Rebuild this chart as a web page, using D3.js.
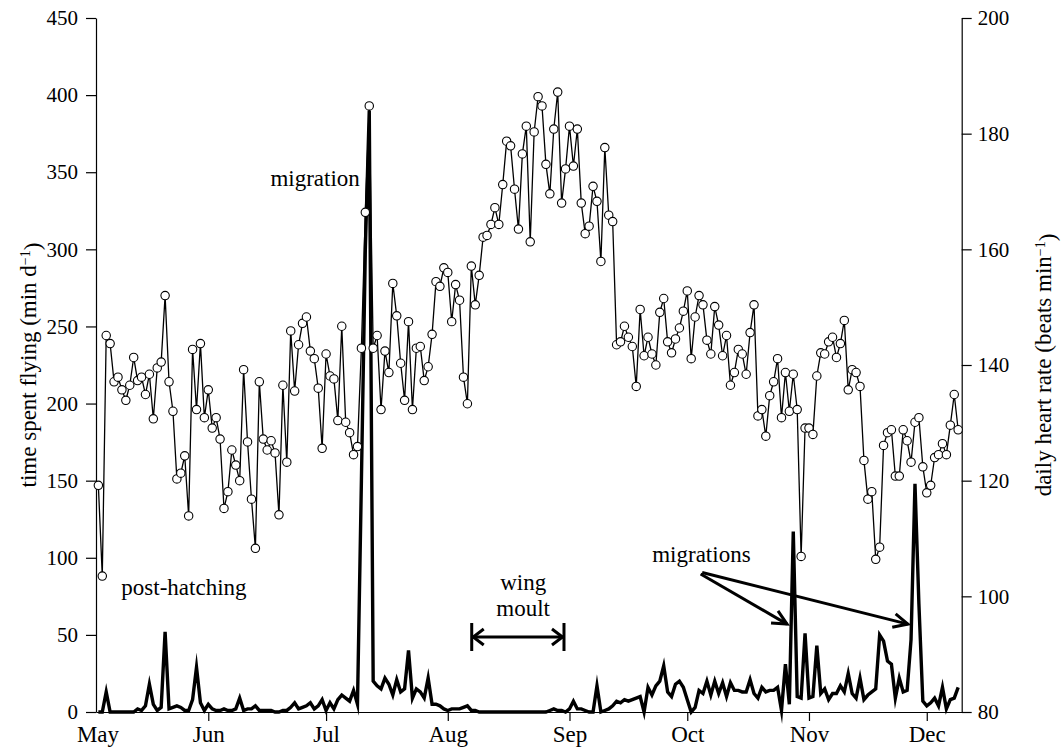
<!DOCTYPE html>
<html>
<head>
<meta charset="utf-8">
<script src="https://cdn.jsdelivr.net/npm/d3@7"></script>
<style>
  body { margin: 0; background: #fff; }
  text { font-family: "Liberation Serif", "Times New Roman", serif; fill: #000; }
</style>
</head>
<body>
<div id="chart"></div>
<script>
// days counted from 1 May; one value per day from firstDay on
const firstDay = 3;

// daily heart rate (beats min-1)
const heartRate = [
  119.2, 103.5, 145.1, 143.7, 137.1, 137.9, 135.7, 133.9, 136.5, 141.3,
  137.3, 137.9, 134.9, 138.4, 130.7, 139.5, 140.5, 152.0, 137.1, 132.0,
  120.3, 121.3, 124.3, 113.9, 142.7, 132.3, 143.7, 130.9, 135.7, 129.1,
  130.9, 127.2, 115.2, 118.1, 125.3, 122.7, 120.0, 139.2, 126.7, 116.8,
  108.3, 137.1, 127.2, 125.3, 126.9, 124.8, 114.1, 136.5, 123.2, 145.9,
  135.5, 143.5,
  147.2, 148.3, 142.4, 141.1, 136.0, 125.6, 141.9, 138.1, 137.6, 130.4,
  146.7, 130.1, 128.3, 124.5, 125.9, 142.9, 166.4, 184.8, 142.9, 145.1,
  132.3, 142.4, 138.7, 154.1, 148.5, 140.3, 133.9, 147.5, 132.3, 142.9,
  143.2, 137.3, 139.7, 145.3, 154.4, 153.6, 156.8, 156.0, 147.5, 153.9,
  151.2, 137.9, 133.3, 157.1, 150.4, 155.5, 162.1, 162.4, 164.3, 167.2,
  164.3, 171.2, 178.7, 177.9, 170.4, 163.5,
  176.5, 181.3, 161.3, 180.3, 186.4, 184.8, 174.7, 169.6, 180.8, 187.2,
  168.0, 173.9, 181.3, 174.4, 180.8, 168.0, 162.7, 164.0, 170.9, 168.3,
  157.9, 177.6, 165.9, 164.8, 143.5, 144.0, 146.7, 144.8, 143.2, 136.3,
  149.6, 141.6, 144.8, 141.9, 140.0, 149.1, 151.5, 144.0, 142.1, 144.5,
  146.4, 149.3, 152.8, 141.1, 148.3, 152.0, 150.4, 144.3, 141.9, 150.1,
  146.9, 141.6, 145.1, 136.5, 138.7, 142.7, 141.9, 138.4, 145.6, 150.4,
  131.2, 132.3, 127.7, 134.7, 137.1, 141.1, 130.9, 138.7, 132.0, 138.4,
  132.3, 106.9, 129.1, 129.1, 128.0, 138.1, 142.1, 141.9, 144.0, 144.8,
  141.3, 143.7, 147.7, 135.7, 139.2, 138.7, 136.3, 123.5, 116.8, 118.1,
  106.4, 108.5, 126.1, 128.3, 128.8, 120.8, 120.8, 128.8, 126.9, 123.2,
  130.1, 130.9, 122.4, 117.9, 119.2, 124.0, 124.5, 126.4, 124.5, 129.6,
  134.9, 128.8
];

// daily time spent flying (min d-1)
const flying = [
  0, 0, 13, 0, 0, 0, 0, 0, 0, 0,
  2, 1, 4, 18, 5, 1, 3, 52, 2, 3,
  4, 3, 1, 1, 8, 29, 6, 1, 5, 2,
  1, 1, 2, 1, 1, 2, 9, 1, 2, 2,
  4, 1, 1, 1, 1, 0, 0, 1, 1, 3,
  6, 2, 3, 4, 6, 2, 4, 8, 1, 6,
  2, 8, 11, 9, 7, 14, 5, 150, 300, 390,
  20, 17, 15, 22, 18, 11, 21, 13, 15, 40,
  9, 15, 13, 9, 22, 5, 5, 4, 2, 1,
  2, 2, 2, 3, 4, 1, 1, 0, 0, 0,
  0, 0, 0, 0, 0, 0, 0, 0, 0, 0,
  0, 0, 0, 0, 0, 1, 2, 1, 1, 0,
  2, 7, 2, 2, 1, 0, 0, 17, 0, 1,
  2, 4, 7, 6, 8, 7, 8, 9, 10, 0,
  16, 11, 17, 20, 30, 13, 10, 18, 20, 16,
  8, 0, 3, 14, 12, 20, 11, 20, 12, 19,
  10, 19, 14, 14, 13, 13, 21, 12, 9, 16,
  13, 14, 14, 16, 1, 31, 5, 117, 10, 9,
  51, 9, 10, 43, 12, 15, 8, 12, 12, 17,
  13, 25, 12, 9, 22, 8, 11, 13, 15, 50,
  46, 33, 31, 9, 22, 13, 14, 47, 148, 70,
  7, 4, 6, 9, 4, 16, 2, 8, 9, 16
];

const monthNames = ["May", "Jun", "Jul", "Aug", "Sep", "Oct", "Nov", "Dec"];
const monthStarts = [0, 31, 61, 92, 123, 153, 184, 214];
const leftTicks = [0, 50, 100, 150, 200, 250, 300, 350, 400, 450];
const rightTicks = [80, 100, 120, 140, 160, 180, 200];

// annotations, in data units (day, minutes)
const notes = [
  { text: "migration", day: 69.6, value: 341, anchor: "end" },
  { text: "post-hatching", day: 24.8, value: 76, anchor: "middle" },
  { text: "wing", day: 111.2, value: 79, anchor: "middle" },
  { text: "moult", day: 111.2, value: 62.5, anchor: "middle" },
  { text: "migrations", day: 156.6, value: 97, anchor: "middle" }
];
const moult = { from: 98.1, to: 121.6, value: 48.6 };
const migrationArrows = [
  { x0: 156.4, y0: 89.5, x1: 178.4, y1: 57 },
  { x0: 156.8, y0: 90.5, x1: 209.2, y1: 57 }
];

const width = 1061, height = 751;
const margin = { top: 18, right: 99.3, bottom: 39, left: 96 };

const svg = d3.select("#chart")
  .append("svg")
  .attr("width", width)
  .attr("height", height);

const x = d3.scaleLinear()
  .domain([2.4, 222.9])
  .range([margin.left, width - margin.right]);

const yLeft = d3.scaleLinear()
  .domain([0, 450])
  .range([height - margin.bottom, margin.top]);

const yRight = d3.scaleLinear()
  .domain([80, 200])
  .range([height - margin.bottom, margin.top]);

const hrData = heartRate.map((v, i) => ({ day: firstDay + i, v: v }));
const flyData = flying.map((v, i) => ({ day: firstDay + i, v: v }));

// Axes
const tickFont = "21px";
const labelFont = "23px";

const xAxis = svg.append("g")
  .attr("transform", `translate(0,${height - margin.bottom})`)
  .call(d3.axisBottom(x)
    .tickValues(monthStarts.slice(1))
    .tickFormat((d, i) => monthNames[i + 1])
    .tickSize(9)
    .tickPadding(5)
    .tickSizeOuter(0));
xAxis.selectAll("text").style("font-size", labelFont);

// May starts before the plotted range, label sits at the axis start
svg.append("text")
  .attr("x", x.range()[0] + 2)
  .attr("y", height - margin.bottom + 14)
  .attr("dy", "0.71em")
  .attr("text-anchor", "middle")
  .style("font-size", labelFont)
  .text(monthNames[0]);

const leftAxis = svg.append("g")
  .attr("transform", `translate(${margin.left},0)`)
  .call(d3.axisLeft(yLeft).tickValues(leftTicks).tickSize(10).tickPadding(8).tickSizeOuter(0));
leftAxis.selectAll("text").style("font-size", tickFont);

const rightAxis = svg.append("g")
  .attr("transform", `translate(${width - margin.right},0)`)
  .call(d3.axisRight(yRight).tickValues(rightTicks).tickSize(10).tickPadding(6).tickSizeOuter(0));
rightAxis.selectAll("text").style("font-size", tickFont);

svg.selectAll(".domain, .tick line").attr("stroke", "#000").attr("stroke-width", 1.2);

// Axis labels
const leftTitle = svg.append("text")
  .attr("transform", `translate(36,${(margin.top + height - margin.bottom) / 2}) rotate(-90)`)
  .attr("text-anchor", "middle")
  .style("font-size", labelFont);
leftTitle.append("tspan").text("time spent flying (min d");
leftTitle.append("tspan").attr("dy", "-0.45em").style("font-size", "14px").text("\u22121");
leftTitle.append("tspan").attr("dy", "0.45em").text(")");

const rightTitle = svg.append("text")
  .attr("transform", `translate(1051,${(margin.top + height - margin.bottom) / 2}) rotate(-90)`)
  .attr("text-anchor", "middle")
  .style("font-size", labelFont);
rightTitle.append("tspan").text("daily heart rate (beats min");
rightTitle.append("tspan").attr("dy", "-0.45em").style("font-size", "14px").text("\u22121");
rightTitle.append("tspan").attr("dy", "0.45em").text(")");

// Time spent flying: thick line
const flyLine = d3.line()
  .x(d => x(d.day))
  .y(d => yLeft(d.v));

svg.append("path")
  .datum(flyData)
  .attr("fill", "none")
  .attr("stroke", "#000")
  .attr("stroke-width", 3.4)
  .attr("stroke-linejoin", "miter")
  .attr("stroke-miterlimit", 10)
  .attr("d", flyLine);

// Heart rate: thin line with open circles
const hrLine = d3.line()
  .x(d => x(d.day))
  .y(d => yRight(d.v));

svg.append("path")
  .datum(hrData)
  .attr("fill", "none")
  .attr("stroke", "#000")
  .attr("stroke-width", 1.3)
  .attr("d", hrLine);

svg.selectAll(".dot")
  .data(hrData)
  .enter().append("circle")
  .attr("class", "dot")
  .attr("cx", d => x(d.day))
  .attr("cy", d => yRight(d.v))
  .attr("r", 4.2)
  .attr("fill", "#fff")
  .attr("stroke", "#000")
  .attr("stroke-width", 1.1);

// Annotations
svg.selectAll(".note")
  .data(notes)
  .enter().append("text")
  .attr("class", "note")
  .attr("x", d => x(d.day))
  .attr("y", d => yLeft(d.value))
  .attr("text-anchor", d => d.anchor)
  .style("font-size", labelFont)
  .text(d => d.text);

// wing moult double arrow with end bars
const my = yLeft(moult.value), mx0 = x(moult.from), mx1 = x(moult.to);
const ann = svg.append("g").attr("stroke", "#000").attr("fill", "none")
  .attr("stroke-width", 3).attr("stroke-linecap", "butt");
ann.append("path").attr("d", `M${mx0},${my}H${mx1}`);
ann.append("path").attr("d", `M${mx0},${my - 14}V${my + 14}M${mx1},${my - 14}V${my + 14}`);
ann.append("path").attr("d", `M${mx0 + 12},${my - 8}L${mx0 + 1.5},${my}L${mx0 + 12},${my + 8}`);
ann.append("path").attr("d", `M${mx1 - 12},${my - 8}L${mx1 - 1.5},${my}L${mx1 - 12},${my + 8}`);

// migrations arrows
migrationArrows.forEach(a => {
  const px0 = x(a.x0), py0 = yLeft(a.y0), px1 = x(a.x1), py1 = yLeft(a.y1);
  const ang = Math.atan2(py1 - py0, px1 - px0);
  const len = 16, spread = 0.45;
  ann.append("path").attr("d", `M${px0},${py0}L${px1},${py1}`);
  ann.append("path").attr("d",
    `M${px1 - len * Math.cos(ang - spread)},${py1 - len * Math.sin(ang - spread)}` +
    `L${px1},${py1}` +
    `L${px1 - len * Math.cos(ang + spread)},${py1 - len * Math.sin(ang + spread)}`);
});
</script>
</body>
</html>
